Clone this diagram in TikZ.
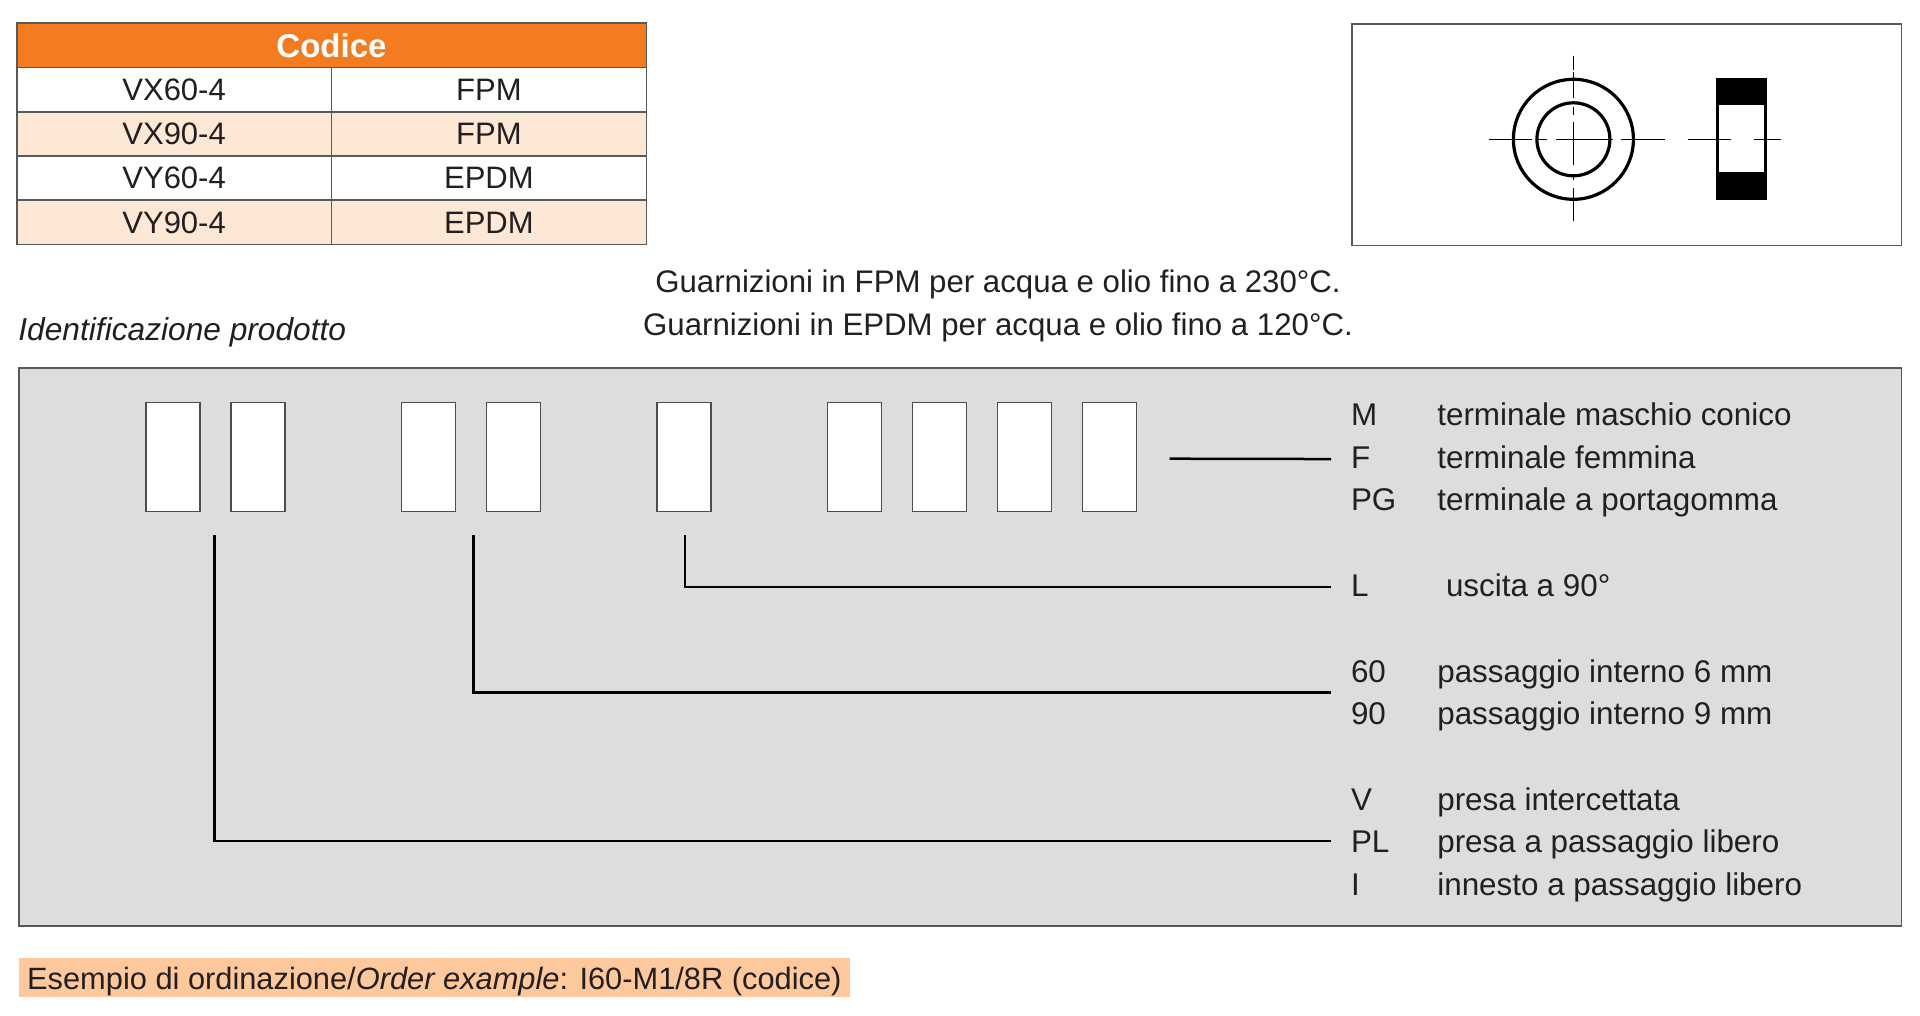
\documentclass[tikz,border=0pt]{standalone}
\usepackage{xcolor}
\usepackage{fontspec}
\setmainfont{Liberation Sans}
\usetikzlibrary{
  positioning,
  calc
}
\definecolor{cdHead}{HTML}{F47C20}
\definecolor{cdRow}{HTML}{FDE8D6}
\definecolor{cdPanel}{HTML}{DCDDDF}
\definecolor{cdExample}{HTML}{FDC89C}
\definecolor{cdEdge}{HTML}{58595B}
\definecolor{cdInk}{HTML}{231F20}
\tikzset{
  txt/.style={
    inner sep=0pt, outer sep=0pt, text=cdInk, font=\fontsize{15.6}{18}\selectfont
  },
  cell/.style={
    txt, draw=cdEdge, line width=0.8pt, minimum width=157.4pt, minimum height=22.1pt,
    font=\fontsize{15.5}{18}\selectfont
  },
  cellplain/.style={cell, fill=white},
  celltint/.style={cell, fill=cdRow},
  headcell/.style={
    cell, fill=cdHead, text=white, minimum width=314.8pt, minimum height=22.2pt,
    font=\fontsize{16.5}{18}\selectfont\bfseries
  },
  framebox/.style={draw=cdEdge, line width=0.9pt, fill=white},
  panel/.style={draw=cdEdge, line width=0.9pt, fill=cdPanel},
  slot/.style={
    draw=cdInk!80, line width=0.6pt, fill=white, outer sep=0pt,
    minimum width=27pt, minimum height=54.3pt
  },
  code/.style={txt, anchor=west, text height=9pt, text depth=0pt, font=\fontsize{15.7}{18}\selectfont},
  leader/.style={line width=1.25pt, black, shorten >=10pt},
  contour/.style={line width=1.6pt, black},
  axisline/.style={line width=0.7pt, black},
  axisthin/.style={line width=0.5pt, black}
}

\begin{document}
\begin{tikzpicture}[x=0.5pt, y=-0.5pt]
  \useasboundingbox (0,0) rectangle (1920,1016);

  \node[headcell] (head) at (331.5,45.5) {Codice};
  \node[cellplain, below=0pt of head.south west, anchor=north west] (r1a) {VX60-4};
  \node[cellplain, right=0pt of r1a] (r1b) {FPM};
  \node[celltint, below=0pt of r1a] (r2a) {VX90-4};
  \node[celltint, right=0pt of r2a] (r2b) {FPM};
  \node[cellplain, below=0pt of r2a] (r3a) {VY60-4};
  \node[cellplain, right=0pt of r3a] (r3b) {EPDM};
  \node[celltint, below=0pt of r3a] (r4a) {VY90-4};
  \node[celltint, right=0pt of r4a] (r4b) {EPDM};

  \draw[framebox] (1352,24) rectangle (1901.5,245.5);
  \draw[contour] (1573.4,139.3) circle[radius=60];
  \draw[contour] (1573.4,139.3) circle[radius=36.5];
  \draw[axisline] (1488.7,139.3) -- (1532.4,139.3) (1536,139.3) -- (1547,139.3) (1555.7,139.3) -- (1613,139.3) (1621,139.3) -- (1664.8,139.3);
  \draw[axisthin] (1573.4,56) -- (1573.4,70) (1573.4,72) -- (1573.4,98) (1573.4,107) -- (1573.4,115) (1573.4,122) -- (1573.4,165) (1573.4,175) -- (1573.4,180) (1573.4,188) -- (1573.4,221);
  \fill[black] (1716.3,77.7) rectangle (1767.3,200);
  \fill[white] (1718.8,105) rectangle (1763.6,172.3);
  \draw[axisline] (1687.8,139.3) -- (1731,139.3) (1753.6,139.3) -- (1781.4,139.3);

  \node[txt] (noteA) at (998,284.2) {Guarnizioni in FPM per acqua e olio fino a 230°C.};
  \node[txt, below=7.3pt of noteA] (noteB) {Guarnizioni in EPDM per acqua e olio fino a 120°C.};
  \node[txt, anchor=base west, font=\fontsize{15.85}{18}\selectfont\itshape] (ident) at (18.4,340) {Identificazione prodotto};

  \draw[panel] (19,367.7) rectangle (1901.5,925.7);

  \node[slot] (slotA) at (173,456.8) {};
  \node[slot, right=15.5pt of slotA] (slotB) {};
  \node[slot, right=58.25pt of slotB] (slotC) {};
  \node[slot, right=15.5pt of slotC] (slotD) {};
  \node[slot, right=58.25pt of slotD] (slotE) {};
  \node[slot, right=58.25pt of slotE] (slotF) {};
  \node[slot, right=15.5pt of slotF] (slotG) {};
  \node[slot, right=15.5pt of slotG] (slotH) {};
  \node[slot, right=15.5pt of slotH] (slotI) {};

  \node[code] (cM) at (1351,416.5) {M};
  \node[code, below=12.3pt of cM.south west, anchor=north west] (cF) {F};
  \node[code, below=12.3pt of cF.south west, anchor=north west] (cPG) {PG};
  \node[code] (cL) at (1351,587) {L};
  \node[code] (c60) at (1351,673.7) {60};
  \node[code, below=11.8pt of c60.south west, anchor=north west] (c90) {90};
  \node[code] (cV) at (1351,801) {V};
  \node[code, below=12.4pt of cV.south west, anchor=north west] (cPL) {PL};
  \node[code, below=12.4pt of cPL.south west, anchor=north west] (cI) {I};

  \node[code] (tM) at (1437.3,416.5) {terminale maschio conico};
  \node[code] (tF) at (tM.west |- cF) {terminale femmina};
  \node[code] (tPG) at (tM.west |- cPG) {terminale a portagomma};
  \node[code] (tL) at (1446,587) {uscita a 90°};
  \node[code] (t60) at (tM.west |- c60) {passaggio interno 6 mm};
  \node[code] (t90) at (tM.west |- c90) {passaggio interno 9 mm};
  \node[code] (tV) at (tM.west |- cV) {presa intercettata};
  \node[code] (tPL) at (tM.west |- cPL) {presa a passaggio libero};
  \node[code] (tI) at (tM.west |- cI) {innesto a passaggio libero};

  \coordinate (tickV) at (214.7,535);
  \coordinate (tickP) at (473.7,535);
  \coordinate (tickL) at (684.8,535);
  \coordinate (tickT) at (1169.5,458.7);
  \coordinate (midP) at (cL.west |- 0,692.7);
  \coordinate (endV) at (cL.west |- 0,841);

  \draw[leader] (tickT) -- (cF.west);
  \draw[leader] (tickL) |- (cL.west);
  \draw[leader] (tickP) |- (midP);
  \draw[leader] (tickV) |- (endV);

  \node[txt, fill=cdExample, anchor=west, minimum height=19.4pt, minimum width=415.3pt, text height=12.65pt, text depth=1.35pt, font=\fontsize{15.4}{18}\selectfont] (order) at (19,977.7) {Esempio di ordinazione/\textit{Order example}: I60-M1/8R (codice)};
\end{tikzpicture}
\end{document}
